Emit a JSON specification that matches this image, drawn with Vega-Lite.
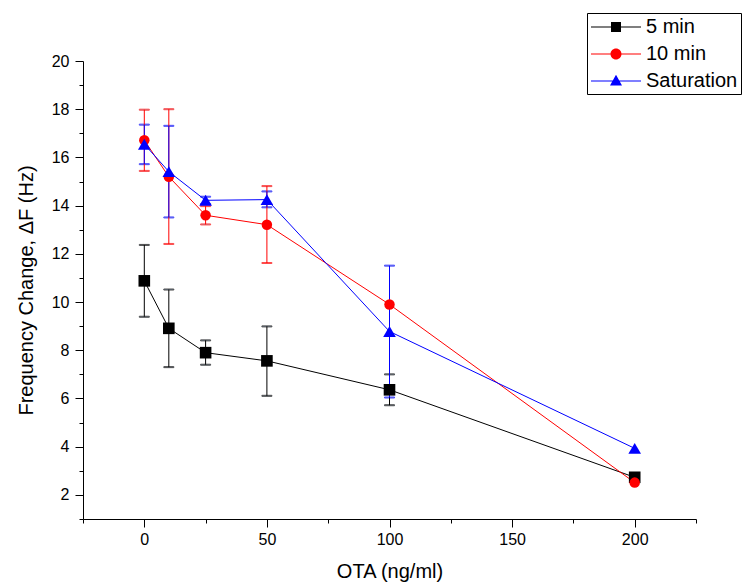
{
  "$schema": "https://vega.github.io/schema/vega-lite/v6.json",
  "width": 613,
  "height": 458,
  "autosize": {"type": "none"},
  "padding": {"left": 83, "top": 61, "right": 51, "bottom": 69},
  "background": "white",
  "config": {
    "view": {"stroke": null},
    "font": "Liberation Sans",
    "axis": {
      "grid": false,
      "domainColor": "#000000",
      "domainWidth": 1,
      "tickColor": "#000000",
      "tickWidth": 1,
      "labelColor": "#000000",
      "titleColor": "#000000",
      "labelFont": "Liberation Sans",
      "titleFont": "Liberation Sans",
      "labelFontSize": 16,
      "titleFontSize": 20,
      "titleFontWeight": "normal"
    }
  },
  "resolve": {"scale": {"shape": "independent", "color": "independent"}},
  "data": {
    "values": [
      {"series": "5 min", "x": 0, "y": 10.88, "lo": 9.39, "hi": 12.37},
      {"series": "5 min", "x": 10, "y": 8.91, "lo": 7.3, "hi": 10.52},
      {"series": "5 min", "x": 25, "y": 7.9, "lo": 7.4, "hi": 8.41},
      {"series": "5 min", "x": 50, "y": 7.56, "lo": 6.11, "hi": 8.99},
      {"series": "5 min", "x": 100, "y": 6.36, "lo": 5.72, "hi": 7.0},
      {"series": "5 min", "x": 200, "y": 2.73, "lo": 2.73, "hi": 2.73},
      {"series": "10 min", "x": 0, "y": 16.71, "lo": 15.44, "hi": 17.98},
      {"series": "10 min", "x": 10, "y": 15.2, "lo": 12.41, "hi": 18.0},
      {"series": "10 min", "x": 25, "y": 13.6, "lo": 13.22, "hi": 13.98},
      {"series": "10 min", "x": 50, "y": 13.21, "lo": 11.62, "hi": 14.81},
      {"series": "10 min", "x": 100, "y": 9.9, "lo": 9.9, "hi": 9.9},
      {"series": "10 min", "x": 200, "y": 2.51, "lo": 2.51, "hi": 2.51},
      {"series": "Saturation", "x": 0, "y": 16.55, "lo": 15.72, "hi": 17.36},
      {"series": "Saturation", "x": 10, "y": 15.41, "lo": 13.51, "hi": 17.31},
      {"series": "Saturation", "x": 25, "y": 14.22, "lo": 14.07, "hi": 14.37},
      {"series": "Saturation", "x": 50, "y": 14.25, "lo": 13.93, "hi": 14.59},
      {"series": "Saturation", "x": 100, "y": 8.78, "lo": 6.04, "hi": 11.51},
      {"series": "Saturation", "x": 200, "y": 3.93, "lo": 3.93, "hi": 3.93}
    ]
  },
  "encoding": {
    "x": {
      "field": "x",
      "type": "quantitative",
      "scale": {"domain": [-25, 225], "nice": false, "zero": false},
      "axis": {
        "title": "OTA (ng/ml)",
        "values": [-25, 0, 25, 50, 75, 100, 125, 150, 175, 200, 225],
        "labelExpr": "datum.value % 50 == 0 ? datum.label : ''",
        "tickSize": {"condition": {"test": "datum.value % 50 != 0", "value": 4}, "value": 8},
        "labelPadding": 4,
        "titlePadding": 14,
        "labelFlush": false
      }
    },
    "y": {
      "field": "y",
      "type": "quantitative",
      "scale": {"domain": [1, 20], "nice": false, "zero": false},
      "axis": {
        "title": "Frequency Change, ΔF (Hz)",
        "values": [1, 2, 3, 4, 5, 6, 7, 8, 9, 10, 11, 12, 13, 14, 15, 16, 17, 18, 19, 20],
        "labelExpr": "datum.value % 2 == 0 ? datum.label : ''",
        "tickSize": {"condition": {"test": "datum.value % 2 != 0", "value": 4}, "value": 8},
        "labelPadding": 6,
        "titlePadding": 15,
        "labelFlush": false
      }
    }
  },
  "layer": [
    {
      "mark": {"type": "line", "strokeWidth": 1},
      "encoding": {
        "order": {"field": "x", "type": "quantitative"},
        "detail": {"field": "series", "type": "nominal"},
        "stroke": {
          "field": "series",
          "type": "nominal",
          "scale": {"domain": ["Saturation", "10 min", "5 min"], "range": ["#0000ff", "#ff0000", "#000000"]},
          "legend": null
        }
      }
    },
    {
      "transform": [{"filter": "datum.hi > datum.lo"}],
      "mark": {"type": "errorbar", "ticks": {"size": 10}, "thickness": 1},
      "encoding": {
        "y": {"field": "lo", "type": "quantitative"},
        "y2": {"field": "hi"},
        "stroke": {"field": "series", "type": "nominal", "legend": null}
      }
    },
    {
      "mark": {"type": "point", "filled": true, "opacity": 1},
      "encoding": {
        "fill": {
          "field": "series",
          "type": "nominal",
          "scale": {"domain": ["10 min", "Saturation", "5 min"], "range": ["#ff0000", "#0000ff", "#000000"]},
          "legend": null
        },
        "shape": {
          "field": "series",
          "type": "nominal",
          "scale": {"domain": ["10 min", "5 min", "Saturation"], "range": ["circle", "square", "triangle-up"]},
          "legend": null
        },
        "size": {
          "field": "series",
          "type": "nominal",
          "scale": {"domain": ["Saturation", "5 min", "10 min"], "range": [160, 110, 130]},
          "legend": null
        }
      }
    },
    {
      "transform": [{"filter": "false"}],
      "mark": {"type": "point", "filled": true, "opacity": 1, "size": 400},
      "encoding": {
        "color": {
          "field": "series",
          "type": "nominal",
          "scale": {"domain": ["5 min", "10 min", "Saturation"], "range": ["#000000", "#ff0000", "#0000ff"]},
          "legend": {
            "title": null,
            "orient": "none",
            "legendX": 504,
            "legendY": -48,
            "padding": 3,
            "strokeColor": "#000000",
            "fillColor": "#ffffff",
            "labelFontSize": 20,
            "labelFont": "Liberation Sans",
            "labelColor": "#000000",
            "labelOffset": 34,
            "rowPadding": 6,
            "symbolSize": 400
          }
        },
        "shape": {
          "field": "series",
          "type": "nominal",
          "scale": {
            "domain": ["5 min", "10 min", "Saturation"],
            "range": [
              "M-1,-0.05H4V0.05H-1ZM1,-0.5H2V0.5H1Z",
              "M-1,-0.05H4V0.05H-1ZM2.05,0A0.55,0.55,0,1,1,0.95,0A0.55,0.55,0,1,1,2.05,0Z",
              "M-1,-0.05H4V0.05H-1ZM1.5,-0.62L2.1,0.45H0.9Z"
            ]
          },
          "legend": {
            "title": null,
            "orient": "none",
            "legendX": 504,
            "legendY": -48,
            "padding": 3,
            "strokeColor": "#000000",
            "fillColor": "#ffffff",
            "labelFontSize": 20,
            "labelFont": "Liberation Sans",
            "labelColor": "#000000",
            "labelOffset": 34,
            "rowPadding": 6,
            "symbolSize": 400
          }
        }
      }
    }
  ]
}
